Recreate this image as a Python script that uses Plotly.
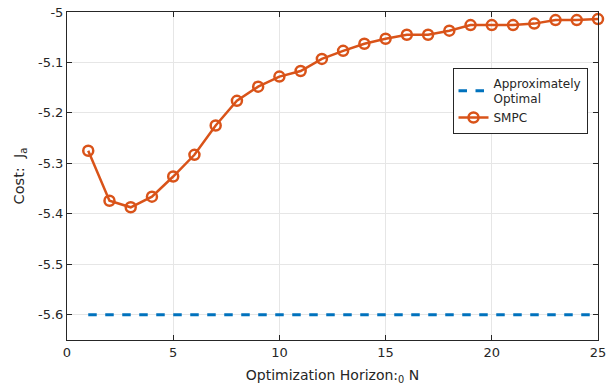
import plotly.graph_objects as go

horizon = list(range(1, 26))
smpc = [-5.275, -5.374, -5.387, -5.366, -5.326, -5.283, -5.225, -5.176, -5.148, -5.128,
        -5.117, -5.093, -5.077, -5.063, -5.053, -5.045, -5.045, -5.037, -5.026, -5.026,
        -5.026, -5.023, -5.016, -5.016, -5.014]
approx_opt = [-5.6] * len(horizon)

x_ticks = [0, 5, 10, 15, 20, 25]
y_ticks = [-5.0, -5.1, -5.2, -5.3, -5.4, -5.5, -5.6]
y_tick_text = ["-5", "-5.1", "-5.2", "-5.3", "-5.4", "-5.5", "-5.6"]

FONT = "DejaVu Sans"
AX = "#262626"

fig = go.Figure()
fig.add_trace(go.Scatter(
    x=horizon, y=approx_opt, mode="lines", name="Approximately<br>Optimal",
    line=dict(color="#0072BD", width=3, dash="8.5px,8.5px"),
))
fig.add_trace(go.Scatter(
    x=horizon, y=smpc, mode="lines+markers", name="SMPC",
    line=dict(color="#D95319", width=2.5),
    marker=dict(symbol="circle-open", size=10, color="#D95319", line=dict(width=2.5, color="#D95319")),
    cliponaxis=False,
))

axis_common = dict(
    showline=True, linecolor=AX, linewidth=1, mirror="ticks",
    ticks="inside", ticklen=5, tickcolor=AX, tickwidth=1,
    showgrid=True, gridcolor="#e6e6e6", gridwidth=1,
    zeroline=False, automargin=False,
    tickfont=dict(family=FONT, size=13, color=AX),
)

fig.update_layout(
    width=610, height=388,
    margin=dict(l=67, r=12, t=12, b=48, autoexpand=False),
    paper_bgcolor="white", plot_bgcolor="white",
    font=dict(family=FONT, color=AX),
    showlegend=True,
    legend=dict(
        x=0.726, y=0.83, xanchor="left", yanchor="top",
        bgcolor="white", bordercolor=AX, borderwidth=1,
        font=dict(family=FONT, size=12, color=AX),
        tracegroupgap=0, itemwidth=30,
    ),
    xaxis=dict(
        range=[0, 25], tickvals=x_ticks,
        title=dict(text="Optimization Horizon:<sub>0</sub> N", font=dict(family=FONT, size=14, color=AX), standoff=11),
        **axis_common,
    ),
    yaxis=dict(
        range=[-5.65, -5.0], tickvals=y_ticks, ticktext=y_tick_text,
        title=dict(text="Cost:  J<sub>a</sub>", font=dict(family=FONT, size=14.5, color=AX), standoff=9),
        **axis_common,
    ),
)

fig.write_html("out.html")
